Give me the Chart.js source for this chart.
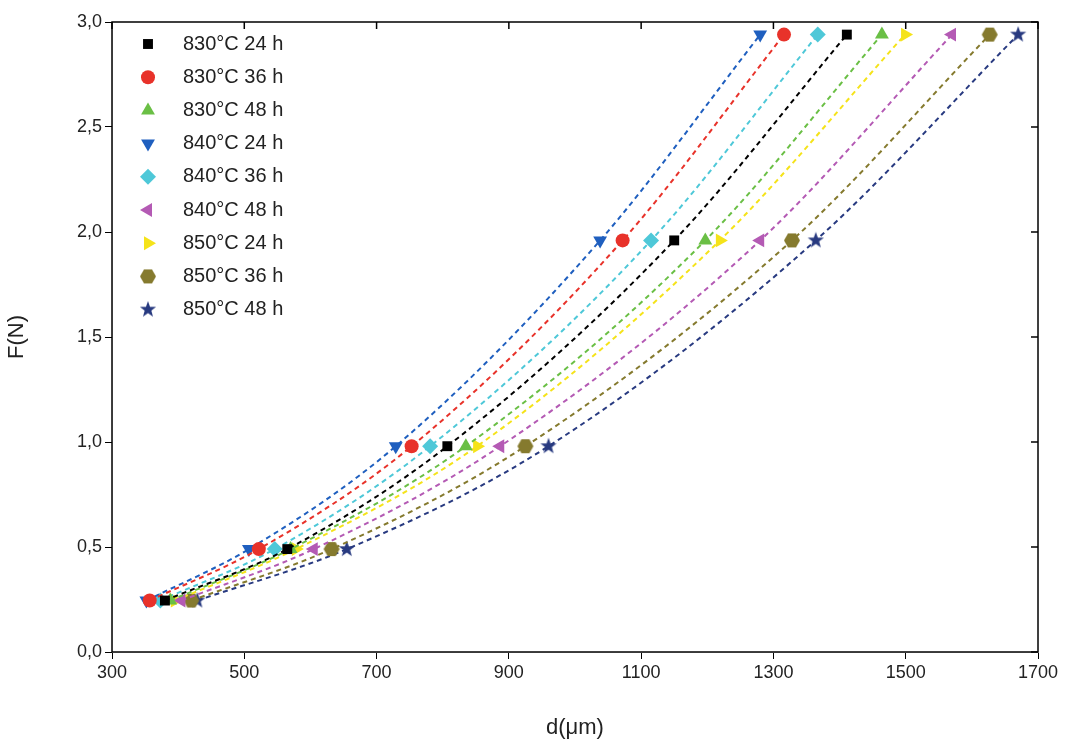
<!DOCTYPE html>
<html><head><meta charset="utf-8">
<script src="https://cdn.jsdelivr.net/npm/chart.js@4/dist/chart.umd.min.js"></script>
<style>body{margin:0;background:#fff}#wrap{width:1067px;height:745px}</style>
</head><body><div id="wrap"><canvas id="c"></canvas></div>
<script>
// loads (N)
const loads = [0.245, 0.49, 0.98, 1.96, 2.94];
const labels = ['830°C 24 h','830°C 36 h','830°C 48 h','840°C 24 h','840°C 36 h','840°C 48 h','850°C 24 h','850°C 36 h','850°C 48 h'];
// diagonals d (um) per series, same order as loads
const d830_24 = [380, 565, 807, 1150, 1411];
const d830_36 = [357, 522, 753, 1072, 1316];
const d830_48 = [388, 570, 835, 1197, 1464];
const d840_24 = [352, 507, 729, 1038, 1280];
const d840_36 = [373, 546, 781, 1115, 1367];
const d840_48 = [405, 605, 887, 1280, 1570];
const d850_24 = [395, 578, 852, 1219, 1499];
const d850_36 = [420, 632, 925, 1328, 1627];
const d850_48 = [429, 655, 960, 1364, 1670];
const series = [d830_24,d830_36,d830_48,d840_24,d840_36,d840_48,d850_24,d850_36,d850_48];
const colors = ['#000000','#e8322a','#6abf45','#1f5fbf','#4ec8d8','#b45ab4','#f5e31a','#857a2e','#283a80'];

function shape(kind, color){
  const cv = document.createElement('canvas'); cv.width = 18; cv.height = 18;
  const g = cv.getContext('2d'); g.fillStyle = color; g.beginPath();
  const n = kind === 'hex' ? 6 : 10;
  for (let i = 0; i < n; i++) {
    const a = -Math.PI/2 + i*2*Math.PI/n + (kind==='hex'?Math.PI/6:0);
    const r = kind === 'hex' ? 8 : (i%2 ? 3.5 : 8.5);
    g.lineTo(9 + r*Math.cos(a), 9 + r*Math.sin(a));
  }
  g.closePath(); g.fill(); return cv;
}
const styles = [
  {s:'rect',rot:0,r:7},{s:'circle',rot:0,r:7},{s:'triangle',rot:0,r:8},
  {s:'triangle',rot:180,r:8},{s:'rectRot',rot:0,r:8},{s:'triangle',rot:-90,r:8},
  {s:'triangle',rot:90,r:8},{s:shape('hex',colors[7]),rot:0,r:8},{s:shape('star',colors[8]),rot:0,r:8}
];

const datasets = series.map((d, i) => ({
  label: labels[i],
  data: d.map((x, k) => ({x: x, y: loads[k]})),
  showLine: true, borderDash: [5, 4], borderWidth: 2, cubicInterpolationMode: 'monotone',
  borderColor: colors[i], backgroundColor: colors[i],
  pointStyle: styles[i].s, pointRotation: styles[i].rot, pointRadius: styles[i].r, pointBorderWidth: 0
}));

const frame = {
  id: 'frame',
  afterDraw(chart) {
    const {ctx, chartArea: a, scales} = chart;
    ctx.save(); ctx.strokeStyle = '#000'; ctx.lineWidth = 1.5;
    ctx.strokeRect(a.left, a.top, a.right - a.left, a.bottom - a.top);
    scales.x.ticks.forEach(t => { const p = scales.x.getPixelForValue(t.value);
      ctx.beginPath(); ctx.moveTo(p, a.top); ctx.lineTo(p, a.top + 7); ctx.stroke(); });
    scales.y.ticks.forEach(t => { const p = scales.y.getPixelForValue(t.value);
      ctx.beginPath(); ctx.moveTo(a.right, p); ctx.lineTo(a.right - 7, p); ctx.stroke(); });
    // legend
    ctx.font = '20px Arial, "Liberation Sans", sans-serif'; ctx.textBaseline = 'middle';
    chart.data.datasets.forEach((ds, i) => {
      const y = 44 + i * 33.2, x = 148;
      const st = styles[i];
      ctx.fillStyle = ds.backgroundColor; ctx.strokeStyle = ds.backgroundColor;
      Chart.helpers.drawPoint(ctx, {pointStyle: st.s, rotation: st.rot, radius: st.r, borderWidth: 0}, x, y);
      ctx.fillStyle = '#222'; ctx.fillText(ds.label, 183, y);
    });
    ctx.restore();
  }
};

new Chart(document.getElementById('c'), {
  type: 'scatter',
  data: {datasets},
  plugins: [frame],
  options: {
    responsive: true, maintainAspectRatio: false, animation: false,
    layout: {padding: {top: 22, right: 29, left: 0, bottom: 0}},
    plugins: {legend: {display: false}, tooltip: {enabled: false}},
    scales: {
      x: {min: 300, max: 1700,
        ticks: {stepSize: 200, color: '#222', font: {size: 18, family: 'Arial'}, callback: v => String(v)},
        grid: {drawOnChartArea: false, tickLength: 7, color: '#000'},
        title: {display: true, text: 'd(μm)', color: '#222', font: {size: 22, family: 'Arial'}, padding: {top: 14}},
        afterFit(s) { s.height = 93; }},
      y: {min: 0, max: 3,
        ticks: {stepSize: 0.5, color: '#222', font: {size: 18, family: 'Arial'},
          callback: v => v.toFixed(1).replace('.', ',')},
        grid: {drawOnChartArea: false, tickLength: 7, color: '#000'},
        title: {display: true, text: 'F(N)', color: '#222', font: {size: 22, family: 'Arial'}, padding: {bottom: 14}},
        afterFit(s) { s.width = 112; }}
    }
  }
});
</script></body></html>
